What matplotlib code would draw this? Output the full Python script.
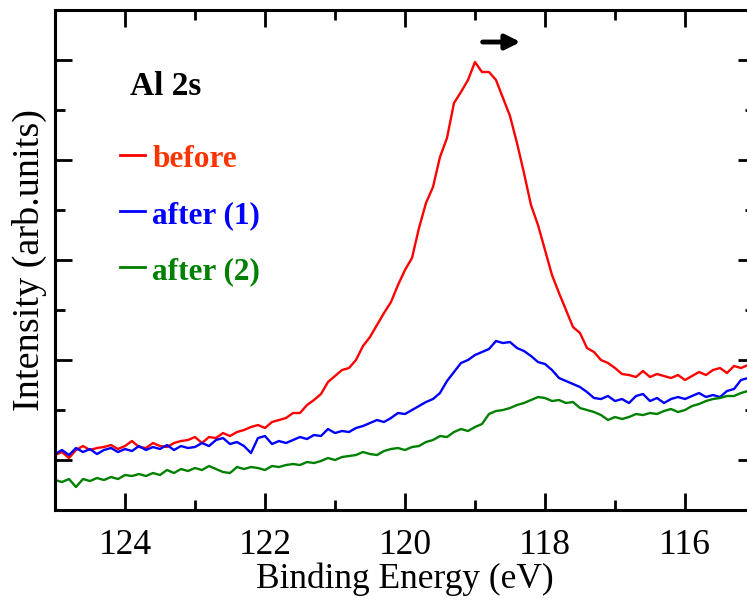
import matplotlib
matplotlib.use('Agg')
import matplotlib.pyplot as plt
import numpy as np
from matplotlib.ticker import MultipleLocator, NullFormatter

plt.rcParams['font.family'] = ['Liberation Serif', 'DejaVu Serif']

# binding energy grid (eV), 125.0 -> 115.1 in 0.1 eV steps
energy = np.linspace(125.0, 115.1, 100)

# intensities (arb. units)
before = [55, 58, 52, 60, 64, 60, 62, 63, 65, 61,
          64, 69, 63, 62, 67, 64, 63, 67, 69, 70,
          73, 67, 73, 72, 77, 74, 78, 80, 83, 85,
          82, 88, 90, 92, 97, 97, 105, 110, 116, 128,
          134, 140, 142, 150, 164, 173, 185, 197, 208, 225,
          240, 252, 282, 307, 323, 353, 372, 407, 418, 430,
          448, 438, 438, 430, 412, 394, 367, 337, 305, 285,
          260, 235, 217, 200, 183, 177, 162, 158, 150, 147,
          142, 136, 135, 133, 139, 133, 136, 134, 132, 135,
          130, 134, 138, 135, 140, 142, 137, 144, 142, 145]

after1 = [56, 60, 55, 62, 58, 61, 56, 60, 62, 58,
          61, 59, 64, 60, 63, 61, 65, 60, 64, 62,
          63, 67, 64, 70, 72, 66, 68, 64, 57, 72,
          74, 66, 69, 67, 70, 73, 71, 75, 74, 81,
          77, 79, 78, 82, 84, 87, 90, 88, 92, 97,
          96, 100, 104, 108, 111, 117, 129, 138, 147, 150,
          155, 158, 161, 169, 167, 168, 162, 159, 154, 148,
          146, 140, 132, 129, 126, 123, 118, 112, 111, 114,
          109, 111, 107, 114, 116, 109, 112, 107, 111, 113,
          111, 114, 117, 113, 115, 113, 119, 121, 130, 132]

after2 = [30, 28, 31, 23, 31, 29, 32, 30, 33, 31,
          35, 34, 36, 34, 37, 35, 40, 37, 41, 39,
          42, 40, 44, 41, 38, 37, 43, 41, 43, 42,
          40, 44, 43, 45, 46, 45, 48, 47, 49, 52,
          50, 53, 54, 55, 58, 56, 55, 59, 61, 62,
          60, 63, 64, 68, 70, 74, 73, 78, 81, 79,
          83, 86, 96, 99, 100, 102, 105, 107, 110, 113,
          112, 109, 110, 107, 108, 102, 100, 98, 95, 90,
          93, 91, 93, 96, 95, 97, 96, 99, 101, 98,
          100, 104, 106, 109, 111, 112, 114, 114, 117, 119]

fig = plt.figure(figsize=(7.47, 6.03), dpi=100)
ax = fig.add_axes([0.0736, 0.1542, 0.9371, 0.8292])

ax.plot(energy, before, color='red', lw=1.7)
ax.plot(energy, after1, color='blue', lw=1.7)
ax.plot(energy, after2, color='#008000', lw=1.7)

ax.set_xlim(125, 115)
ax.set_ylim(0, 500)

ax.xaxis.set_major_locator(MultipleLocator(2))
ax.xaxis.set_minor_locator(MultipleLocator(1))
ax.set_yticks([50, 150, 250, 350, 450])
ax.set_yticks([100, 200, 300, 400], minor=True)
ax.yaxis.set_major_formatter(NullFormatter())

ax.tick_params(which='both', direction='in', top=True, right=True, width=2)
ax.tick_params(which='major', length=12.5, labelsize=25.5, pad=14)
ax.tick_params(which='minor', length=7.5)
for s in ax.spines.values():
    s.set_linewidth(2.2)

ax.set_xlabel('Binding Energy (eV)', fontsize=25.5, labelpad=0)
ax.set_ylabel('Intensity (arb.units)', fontsize=27.5, labelpad=-8)

# legend drawn by hand, coloured labels
ax.text(0.107, 0.83, 'Al 2s', transform=ax.transAxes, fontsize=24,
        fontweight='bold', va='baseline')
labels = ['before', 'after (1)', 'after (2)']
line_cols = ['red', 'blue', '#008000']
text_cols = ['#ff3300', 'blue', '#008000']
ys = [0.71, 0.598, 0.486]
for lab, lc, tc, y in zip(labels, line_cols, text_cols, ys):
    ax.plot([0.093, 0.128], [y, y], color=lc, lw=2, transform=ax.transAxes)
    ax.text(0.139, y - 0.024, lab, transform=ax.transAxes, fontsize=22.5,
            fontweight='bold', color=tc, va='baseline')

ax.annotate('', xy=(118.31, 468), xytext=(118.93, 468),
            arrowprops=dict(arrowstyle='-|>', lw=3.5, color='black',
                            mutation_scale=22))

fig.savefig('out.png', dpi=100)
